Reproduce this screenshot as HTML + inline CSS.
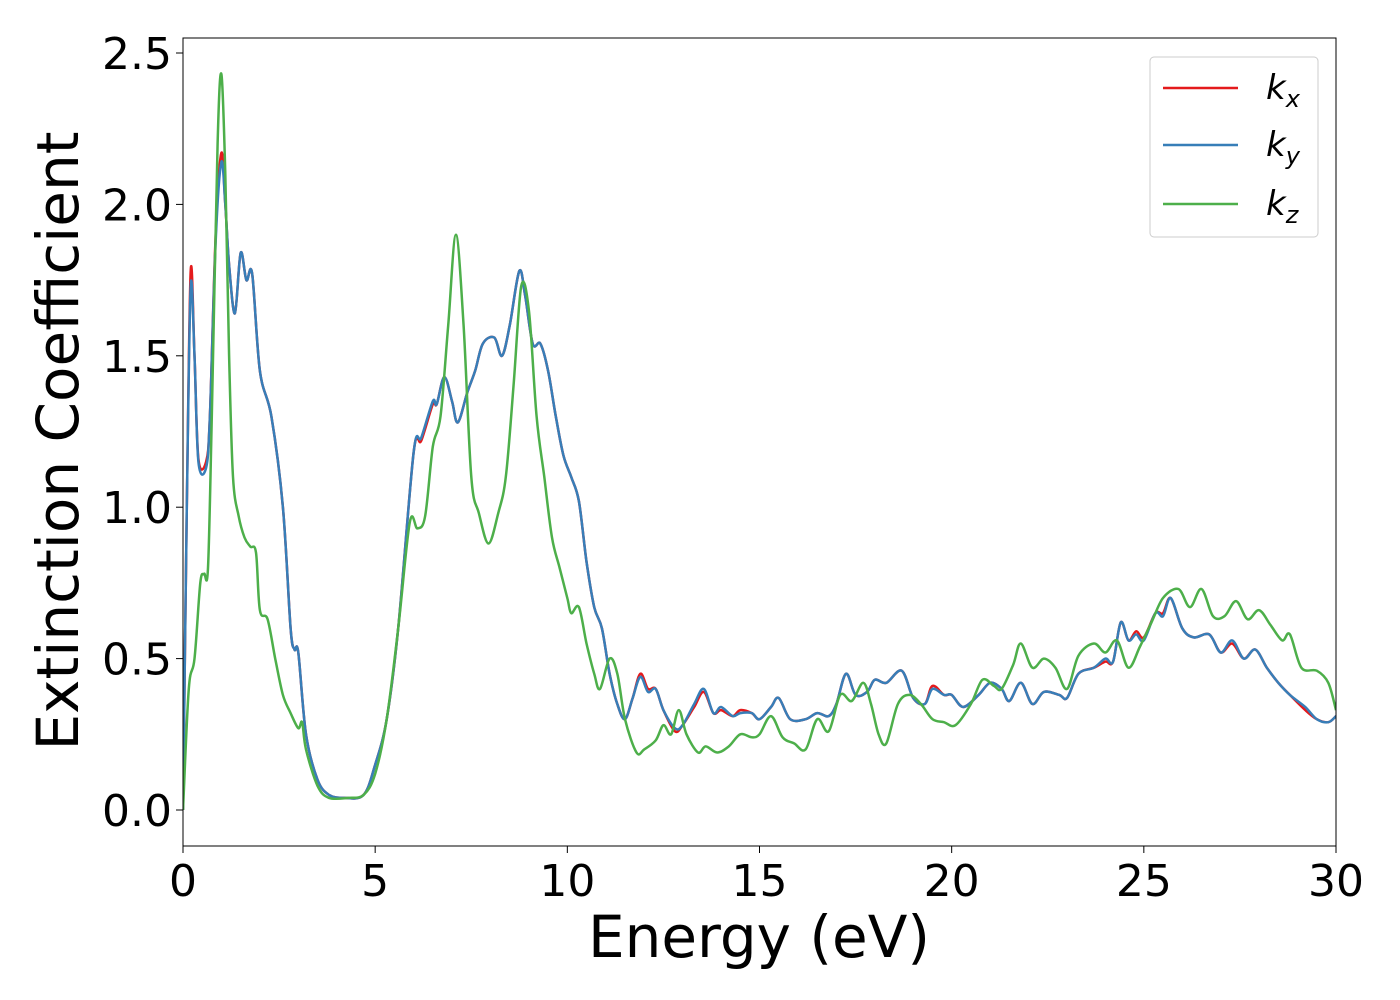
<!DOCTYPE html>
<html><head><meta charset="utf-8"><style>
html,body{margin:0;padding:0;background:#fff;}
svg{display:block;font-family:"DejaVu Sans","Liberation Sans",sans-serif;}
</style></head><body>
<svg id="chart" width="1400" height="1000" viewBox="0 0 1400 1000" xmlns="http://www.w3.org/2000/svg">
<g id="plot"></g>
</svg>
<script>
const xTicks = [0,5,10,15,20,25,30];
const yTicks = [0.0,0.5,1.0,1.5,2.0,2.5];
const yTickLabels = ["0.0","0.5","1.0","1.5","2.0","2.5"];
const seriesNames = ["kx","ky","kz"];
const energyXY = [0,0.1,0.2,0.3,0.4,0.6,0.7,0.85,1.0,1.1,1.2,1.35,1.5,1.65,1.8,2.0,2.3,2.6,2.8,2.9,3.0,3.2,3.5,3.8,4.2,4.7,5.0,5.3,5.6,6.0,6.2,6.5,6.6,6.8,7.0,7.15,7.4,7.6,7.8,8.1,8.3,8.5,8.75,8.9,9.1,9.3,9.5,9.7,9.9,10.1,10.3,10.5,10.7,10.9,11.1,11.3,11.5,11.7,11.9,12.1,12.3,12.5,12.8,13.0,13.3,13.55,13.8,14.0,14.3,14.5,14.8,15.0,15.3,15.5,15.8,16.2,16.5,16.8,17.0,17.25,17.5,17.8,18.0,18.3,18.7,19.0,19.3,19.5,19.8,20.0,20.3,20.7,21.0,21.3,21.5,21.8,22.1,22.4,22.8,23.0,23.3,23.7,24.0,24.2,24.4,24.6,24.8,25.0,25.3,25.5,25.7,26.0,26.3,26.7,27.0,27.3,27.6,27.9,28.2,28.5,28.8,29.2,29.5,29.8,30.0];
const kyValues = [0,1.0,1.73,1.5,1.15,1.13,1.3,1.88,2.14,2.0,1.8,1.64,1.84,1.75,1.77,1.45,1.3,1.0,0.6,0.53,0.52,0.25,0.1,0.05,0.04,0.05,0.15,0.3,0.6,1.18,1.23,1.35,1.34,1.43,1.35,1.28,1.38,1.45,1.54,1.56,1.5,1.6,1.78,1.7,1.54,1.54,1.45,1.3,1.17,1.1,1.02,0.82,0.67,0.6,0.45,0.35,0.3,0.37,0.44,0.39,0.4,0.33,0.27,0.28,0.35,0.4,0.32,0.34,0.31,0.32,0.32,0.3,0.34,0.37,0.3,0.3,0.32,0.31,0.35,0.45,0.38,0.39,0.43,0.42,0.46,0.37,0.35,0.4,0.38,0.38,0.34,0.38,0.42,0.4,0.36,0.42,0.35,0.39,0.38,0.37,0.45,0.47,0.5,0.49,0.62,0.56,0.58,0.56,0.65,0.64,0.7,0.6,0.57,0.58,0.52,0.56,0.5,0.53,0.47,0.42,0.38,0.34,0.3,0.29,0.31];
const kxValues = [0,1.0,1.78,1.5,1.16,1.15,1.3,1.9,2.17,2.0,1.8,1.64,1.84,1.75,1.77,1.45,1.3,1.0,0.6,0.53,0.52,0.25,0.1,0.05,0.04,0.05,0.15,0.3,0.6,1.18,1.22,1.34,1.34,1.43,1.35,1.28,1.38,1.45,1.54,1.56,1.5,1.6,1.78,1.7,1.54,1.54,1.45,1.3,1.17,1.1,1.02,0.82,0.67,0.6,0.45,0.35,0.3,0.37,0.45,0.4,0.4,0.33,0.26,0.28,0.34,0.39,0.32,0.33,0.31,0.33,0.32,0.3,0.34,0.37,0.3,0.3,0.32,0.31,0.35,0.45,0.38,0.39,0.43,0.42,0.46,0.37,0.35,0.41,0.38,0.38,0.34,0.38,0.42,0.4,0.36,0.42,0.35,0.39,0.38,0.37,0.45,0.47,0.49,0.49,0.62,0.56,0.59,0.57,0.65,0.65,0.7,0.6,0.57,0.58,0.52,0.55,0.5,0.53,0.47,0.42,0.38,0.33,0.3,0.29,0.31];
const energyZ = [0,0.15,0.3,0.45,0.55,0.65,0.75,0.9,1.0,1.1,1.2,1.3,1.45,1.6,1.75,1.9,2.0,2.2,2.4,2.6,2.8,3.0,3.1,3.2,3.5,3.8,4.3,4.7,5.0,5.3,5.6,5.9,6.1,6.3,6.5,6.7,6.9,7.1,7.3,7.5,7.7,7.95,8.2,8.4,8.6,8.8,9.0,9.2,9.4,9.6,9.8,10.0,10.1,10.3,10.5,10.7,10.85,11.1,11.3,11.5,11.8,12.0,12.3,12.5,12.7,12.9,13.1,13.4,13.6,13.9,14.2,14.5,14.8,15.0,15.3,15.6,15.9,16.2,16.5,16.8,17.1,17.4,17.7,17.9,18.1,18.3,18.6,18.9,19.2,19.5,19.8,20.1,20.5,20.8,21.1,21.3,21.6,21.8,22.1,22.4,22.7,23.0,23.3,23.7,24.0,24.3,24.6,24.9,25.2,25.5,25.9,26.2,26.5,26.8,27.1,27.4,27.7,28.0,28.3,28.6,28.8,29.1,29.5,29.8,30.0];
const kzValues = [0,0.4,0.5,0.75,0.78,0.8,1.3,2.2,2.43,2.1,1.5,1.1,0.97,0.9,0.87,0.85,0.66,0.63,0.5,0.38,0.32,0.27,0.29,0.2,0.08,0.04,0.04,0.05,0.12,0.3,0.6,0.95,0.93,0.97,1.2,1.3,1.6,1.9,1.6,1.1,0.98,0.88,0.98,1.1,1.4,1.73,1.65,1.3,1.1,0.9,0.8,0.7,0.65,0.67,0.55,0.45,0.4,0.5,0.45,0.3,0.19,0.2,0.23,0.28,0.25,0.33,0.25,0.19,0.21,0.19,0.21,0.25,0.24,0.25,0.31,0.24,0.22,0.2,0.3,0.26,0.38,0.36,0.42,0.35,0.25,0.22,0.35,0.38,0.35,0.3,0.29,0.28,0.35,0.43,0.41,0.4,0.48,0.55,0.47,0.5,0.47,0.4,0.51,0.55,0.52,0.56,0.47,0.54,0.62,0.7,0.73,0.67,0.73,0.64,0.64,0.69,0.63,0.66,0.61,0.56,0.58,0.47,0.46,0.42,0.33];

const L=183,R=1336,T=38,B=846,Y0=810,Y25=53;
const xs=v=>L+(v-0)/(30-0)*(R-L);
const ys=v=>Y0-v/2.5*(Y0-Y25);
const NS="http://www.w3.org/2000/svg";
const g=document.getElementById('plot');
function mk(tag,attrs,parent){const e=document.createElementNS(NS,tag);for(const k in attrs)e.setAttribute(k,attrs[k]);(parent||g).appendChild(e);return e;}

const clip=mk('clipPath',{id:'clip'});mk('rect',{x:L,y:T,width:R-L,height:B-T},clip);
function line(xv,yv,color,name){
  const P=xv.map((x,i)=>[xs(x),ys(yv[i])]);
  let d='M'+P[0][0].toFixed(1)+','+P[0][1].toFixed(1);
  for(let i=0;i<P.length-1;i++){
    const p0=P[Math.max(0,i-1)],p1=P[i],p2=P[i+1],p3=P[Math.min(P.length-1,i+2)];
    const t=1/6;
    let c1x=p1[0]+(p2[0]-p0[0])*t,c1y=p1[1]+(p2[1]-p0[1])*t;
    let c2x=p2[0]-(p3[0]-p1[0])*t,c2y=p2[1]-(p3[1]-p1[1])*t;
    c1x=Math.min(Math.max(c1x,p1[0]),p2[0]);c2x=Math.min(Math.max(c2x,p1[0]),p2[0]);
    d+='C'+c1x.toFixed(1)+','+c1y.toFixed(1)+' '+c2x.toFixed(1)+','+c2y.toFixed(1)+' '+p2[0].toFixed(1)+','+p2[1].toFixed(1);
  }
  const p=mk('path',{d:d,fill:'none',stroke:color,'stroke-width':2.5,'stroke-linejoin':'round','clip-path':'url(#clip)'});
  
  
}
line(energyXY,kxValues,'#e41a1c','series-kx');
line(energyXY,kyValues,'#377eb8','series-ky');
line(energyZ,kzValues,'#4daf4a','series-kz');

const frame=mk('rect',{x:L,y:T,width:R-L,height:B-T,fill:'none',stroke:'#000','stroke-width':1});



xTicks.forEach(v=>{
  const t=mk('line',{x1:xs(v),x2:xs(v),y1:B,y2:B+7,stroke:'#000','stroke-width':1});
  
  
  const lb=mk('text',{x:xs(v),y:B+50,'text-anchor':'middle','font-size':44});
  lb.textContent=String(v);
  
  
});
yTicks.forEach((v,i)=>{
  const t=mk('line',{x1:L-7,x2:L,y1:ys(v),y2:ys(v),stroke:'#000','stroke-width':1});
  
  
  const lb=mk('text',{x:L-11,y:ys(v)+16,'text-anchor':'end','font-size':44});
  lb.textContent=yTickLabels[i];
  
  
});
const xt=mk('text',{x:759,y:957,'text-anchor':'middle','font-size':58});
xt.textContent='Energy (eV)';


const yt=mk('text',{x:0,y:0,'text-anchor':'middle','font-size':58,transform:'translate(78,441) rotate(-90)'});
yt.textContent='Extinction Coefficient';



const lg=mk('g',{});


mk('rect',{x:1150,y:57,width:168,height:180,rx:4,fill:'#fff','fill-opacity':0.8,stroke:'#ccc','stroke-width':1},lg);
const cols=['#e41a1c','#377eb8','#4daf4a'],subs=['x','y','z'],ly=[88,145,204];
seriesNames.forEach((n,i)=>{
  const e=mk('g',{},lg);
  
  
  mk('line',{x1:1163,x2:1238,y1:ly[i],y2:ly[i],stroke:cols[i],'stroke-width':2.5},e);
  const tx=mk('text',{x:1266,y:ly[i]+11,'font-size':34,'font-style':'italic'},e);
  tx.appendChild(document.createTextNode('k'));
  const s=document.createElementNS(NS,'tspan');s.setAttribute('dy','8');s.setAttribute('font-size','24');s.textContent=subs[i];tx.appendChild(s);
});
</script>
</body></html>
